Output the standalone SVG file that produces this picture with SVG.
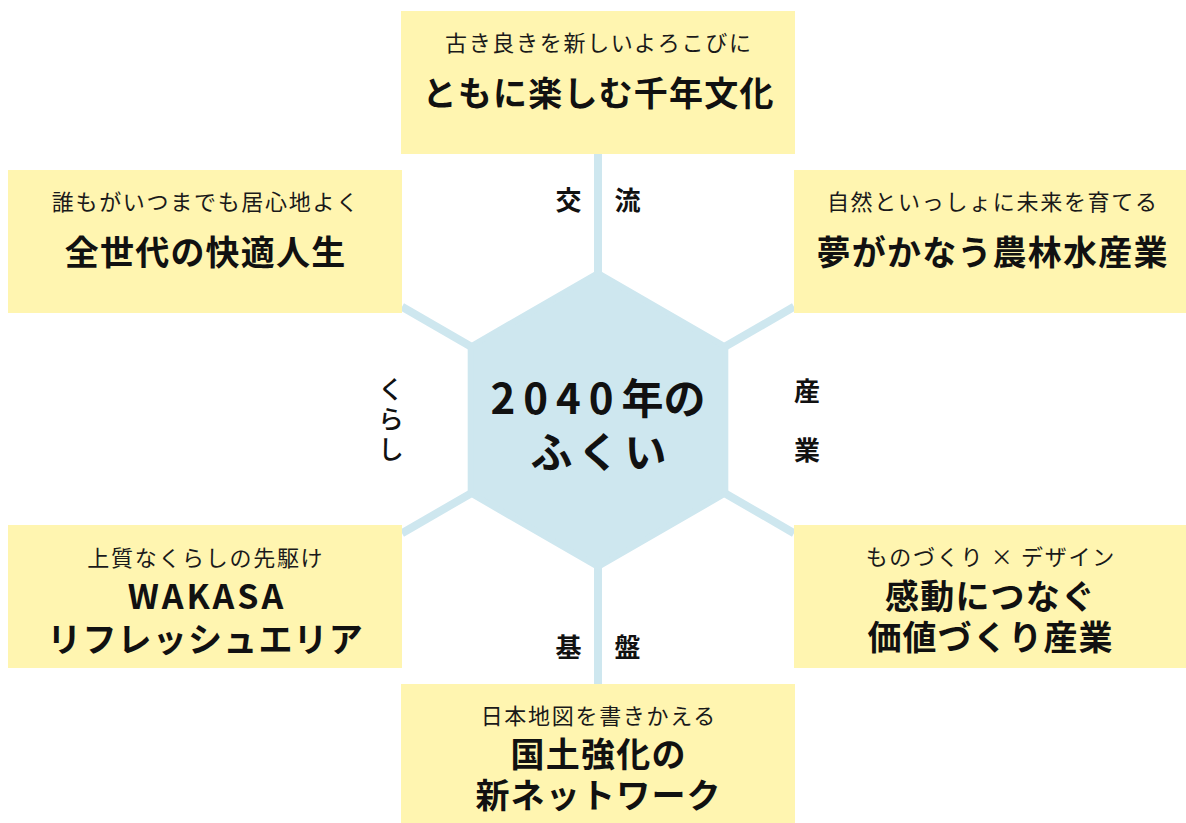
<svg xmlns="http://www.w3.org/2000/svg" width="1186" height="823" viewBox="0 0 1186 823">
<style>
.box{fill:#fff5b0}
.sub{font-family:"Noto Sans CJK JP","Noto Sans",sans-serif;font-size:22px;font-weight:400;fill:#1a1a1a;text-anchor:middle;letter-spacing:1.7px}
.ttl{font-family:"Noto Sans CJK JP","Noto Sans",sans-serif;font-size:34px;font-weight:700;fill:#111;text-anchor:middle;letter-spacing:1.2px}
.axis{font-family:"Noto Sans CJK JP","Noto Sans",sans-serif;font-size:26px;font-weight:700;fill:#111;text-anchor:middle}
.axisv{font-family:"Noto Sans CJK JP","Noto Sans",sans-serif;font-size:26px;font-weight:500;fill:#111}
.ctr{font-family:"Noto Sans CJK JP","Noto Sans",sans-serif;font-size:42px;font-weight:700;fill:#111;text-anchor:middle}
.conn{stroke:#cee7ef;stroke-width:8;fill:none}
</style>
<rect width="1186" height="823" fill="#ffffff"/>
<g id="connectors">
<line class="conn" x1="598" y1="420" x2="598" y2="154"/>
<line class="conn" x1="598" y1="420" x2="598" y2="684"/>
<line class="conn" x1="598" y1="420" x2="402" y2="306.8"/>
<line class="conn" x1="598" y1="420" x2="794" y2="306.8"/>
<line class="conn" x1="598" y1="420" x2="402" y2="533.2"/>
<line class="conn" x1="598" y1="420" x2="794" y2="533.2"/>
</g>
<g id="center">
<polygon points="598,273 725.3,346.5 725.3,493.5 598,567 470.7,493.5 470.7,346.5" fill="#cee7ef" stroke="#cee7ef" stroke-width="6" stroke-linejoin="round"/>
<text class="ctr"><tspan x="598" y="413.5" letter-spacing="8px">2040</tspan><tspan letter-spacing="0px">年の</tspan><tspan x="601" y="467.5" letter-spacing="5px">ふくい</tspan></text>
</g>
<g id="node-top">
<rect class="box" x="401" y="11" width="394" height="143"/>
<text class="sub" x="598.8" y="51">古き良きを新しいよろこびに</text>
<text class="ttl" x="598.6" y="106">ともに楽しむ千年文化</text>
</g>
<g id="node-topleft">
<rect class="box" x="8" y="170" width="394" height="143"/>
<text class="sub" x="205.8" y="210">誰もがいつまでも居心地よく</text>
<text class="ttl" x="205.6" y="264.5">全世代の快適人生</text>
</g>
<g id="node-topright">
<rect class="box" x="794" y="170" width="392" height="143"/>
<text class="sub" x="992.8" y="210">自然といっしょに未来を育てる</text>
<text class="ttl" x="992.6" y="264.5">夢がかなう農林水産業</text>
</g>
<g id="node-bottomleft">
<rect class="box" x="8" y="525" width="394" height="143"/>
<text class="sub" x="205.8" y="566">上質なくらしの先駆け</text>
<text class="ttl"><tspan x="207" y="609" letter-spacing="3px">WAKASA</tspan><tspan x="205.6" y="652">リフレッシュエリア</tspan></text>
</g>
<g id="node-bottomright">
<rect class="box" x="794" y="525" width="392" height="143"/>
<text class="sub" x="990.8" y="565">ものづくり × デザイン</text>
<text class="ttl"><tspan x="990.6" y="609">感動につなぐ</tspan><tspan x="990.6" y="650">価値づくり産業</tspan></text>
</g>
<g id="node-bottom">
<rect class="box" x="401" y="684" width="394" height="139"/>
<text class="sub" x="598.8" y="724">日本地図を書きかえる</text>
<text class="ttl"><tspan x="598.6" y="767">国土強化の</tspan><tspan x="598.6" y="808">新ネットワーク</tspan></text>
</g>
<g id="axis-labels">
<text class="axis" x="568.5" y="209.5">交</text>
<text class="axis" x="627.5" y="209.5">流</text>
<text class="axis" x="568.5" y="656.5">基</text>
<text class="axis" x="627.5" y="656.5">盤</text>
<text class="axis" x="807" y="400.5">産</text>
<text class="axis" x="807" y="459.5">業</text>
<text class="axisv" x="391" y="376" writing-mode="vertical-rl" letter-spacing="4px">くらし</text>
</g>
</svg>
